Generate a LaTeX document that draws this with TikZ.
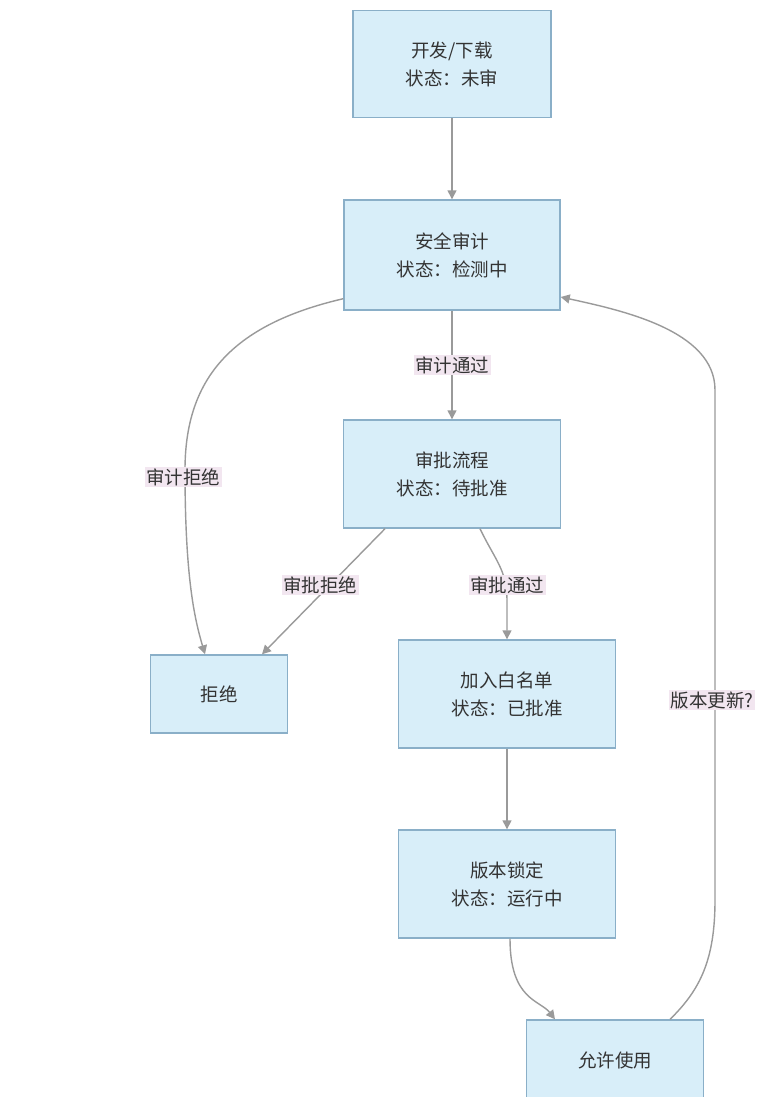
\documentclass[tikz,border=0pt]{standalone}
\usepackage{fontspec}
\setmainfont{Noto Sans CJK SC}
\usetikzlibrary{arrows.meta}
\definecolor{boxfill}{HTML}{D8EEF9}
\definecolor{boxline}{HTML}{8AAFC8}
\definecolor{edgecol}{HTML}{9A9A9A}
\definecolor{lblfill}{HTML}{F2E6F0}
\definecolor{txt}{HTML}{333333}
\tikzset{
  flowbox/.style={draw=boxline, line width=1.4pt, fill=boxfill, align=center,
    text=txt, font=\fontsize{18.5}{28}\selectfont, inner sep=0pt},
  conn/.style={draw=edgecol, line width=1.4pt, -{Triangle[length=9pt,width=9pt]}},
  elabel/.style={fill=lblfill, text=txt, font=\fontsize{18.5}{22}\selectfont, inner sep=1.5pt}
}
\begin{document}
\begin{tikzpicture}[x=1pt,y=-1pt]
\useasboundingbox[fill=white] (0,0) rectangle (767,1097);
\node[flowbox, minimum width=198pt, minimum height=107pt] (A) at (452,64) {开发/下载\\状态：未审};
\node[flowbox, minimum width=216pt, minimum height=110pt] (B) at (452,255) {安全审计\\状态：检测中};
\node[flowbox, minimum width=217pt, minimum height=108pt] (C) at (452,474) {审批流程\\状态：待批准};
\node[flowbox, minimum width=137pt, minimum height=78pt] (D) at (219,694) {拒绝};
\node[flowbox, minimum width=217pt, minimum height=108pt] (E) at (507,694) {加入白名单\\状态：已批准};
\node[flowbox, minimum width=217pt, minimum height=108pt] (F) at (507,884) {版本锁定\\状态：运行中};
\node[flowbox, minimum width=177pt, minimum height=80pt] (G) at (615,1060) {允许使用};

\draw[conn] (A.south) -- (B.north);
\draw[conn] (B.south) -- node[elabel] (l1) {审计通过} (C.north);
\draw[conn] ([yshift=12pt]B.south west) .. controls (230,325) and (185,380) .. (185,470)
   .. controls (185,580) and (195,620) .. ([xshift=-14pt]D.north);
\node[elabel] (l2) at (183,477) {审计拒绝};
\draw[conn] ([xshift=-67pt]C.south) -- ([xshift=43pt]D.north);
\node[elabel] (l3) at (320,585) {审批拒绝};
\draw[conn] ([xshift=28pt]C.south) .. controls (495,560) and (507,570) .. (507,600) -- (E.north);
\node[elabel] (l4) at (507,585) {审批通过};
\draw[conn] (E.south) -- (F.north);
\draw[conn] ([xshift=3pt]F.south) .. controls (510,1000) and (540,1000) .. ([xshift=-60pt]G.north);
\draw[conn] ([xshift=55pt]G.north) .. controls (700,990) and (715,960) .. (715,900) -- (715,390)
   .. controls (715,330) and (620,310) .. ([yshift=-42pt]B.east);
\node[elabel] (l5) at (712,700) {版本更新?};
\end{tikzpicture}
\end{document}
